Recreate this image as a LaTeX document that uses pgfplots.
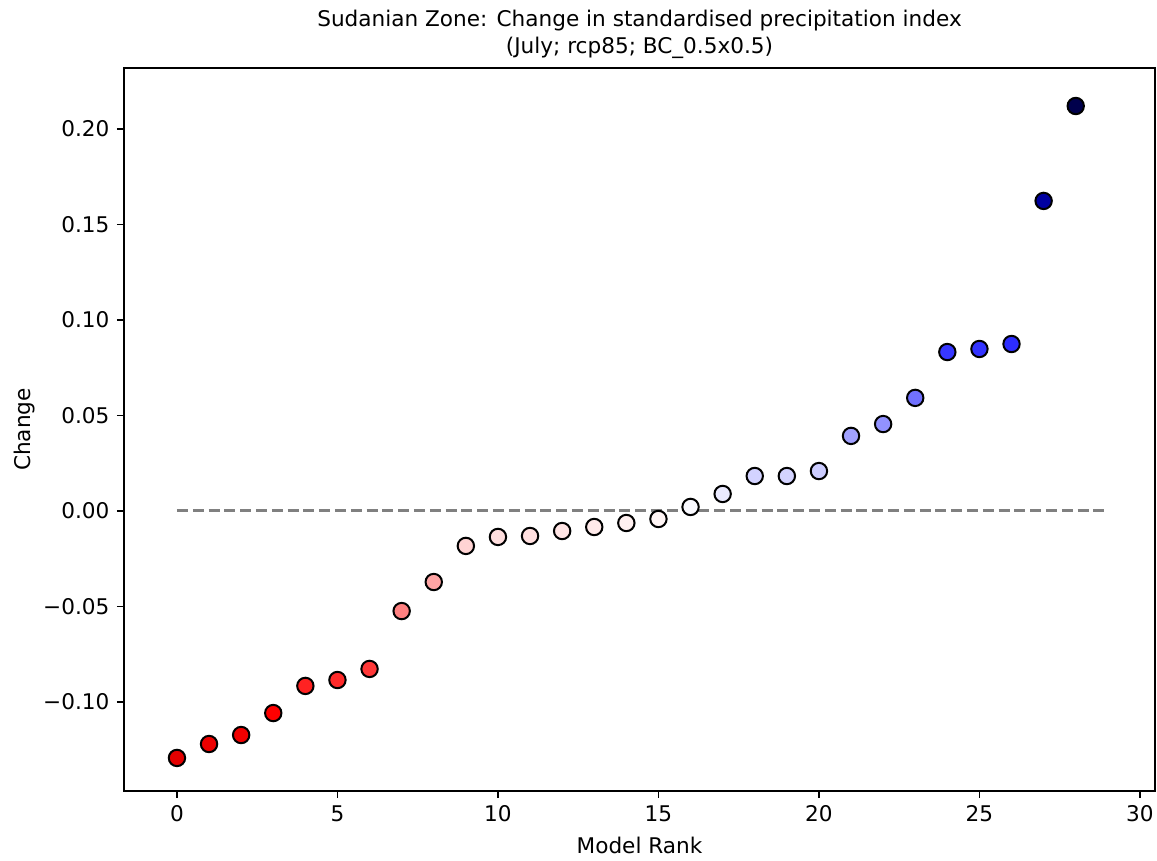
\documentclass[border=0pt]{standalone}
\usepackage{pgfplots}
\pgfplotsset{compat=1.18}
\usepackage{fontspec}
\setmainfont{DejaVu Sans}
\pgfplotstableread{
x y
0 -0.1293
1 -0.1220
2 -0.1173
3 -0.1058
4 -0.0916
5 -0.0885
6 -0.0827
7 -0.0524
8 -0.0372
9 -0.0183
10 -0.0136
11 -0.0131
12 -0.0105
13 -0.0084
14 -0.0063
15 -0.0042
16 0.0021
17 0.0089
18 0.0183
19 0.0183
20 0.0209
21 0.0393
22 0.0455
23 0.0592
24 0.0832
25 0.0848
26 0.0874
27 0.1623
28 0.2120
}\datatable
\begin{document}
\fontsize{10.8}{13}\selectfont
\begin{tikzpicture}
\begin{axis}[
  name=ax,
  scale only axis,
  width=515.5pt, height=361.5pt,
  xmin=-1.65, xmax=30.47,
  ymin=-0.1466, ymax=0.2319,
  axis line style={line width=0.8pt},
  tick align=outside,
  xtick pos=bottom, ytick pos=left,
  major tick length=3.5pt,
  tick style={black, line width=0.8pt},
  xtick={0,5,10,15,20,25,30},
  ytick={-0.10,-0.05,0,0.05,0.10,0.15,0.20},
  yticklabels={−0.10,−0.05,0.00,0.05,0.10,0.15,0.20},
  /pgf/number format/assume math mode=true,
  ticklabel style={font=\fontsize{10.8}{13}\selectfont},
  label style={font=\fontsize{10.8}{13}\selectfont},
  xlabel={Model Rank},
  ylabel={Change},
  ylabel style={yshift=-3.5pt},
  title={Sudanian Zone: Change in standardised precipitation index\\(July; rcp85; BC\_0.5x0.5)},
  title style={align=center, font=\fontsize{10.8}{13.5}\selectfont, yshift=-5pt},
  colormap={seismicr}{rgb255(0)=(128,0,0) rgb255(1)=(255,0,0) rgb255(2)=(255,255,255) rgb255(3)=(0,0,255) rgb255(4)=(0,0,76)},
  point meta min=-0.212, point meta max=0.212,
  clip=false,
]
\addplot[color={rgb,255:red,128;green,128;blue,128}, line width=1.5pt, dash pattern=on 5.5pt off 2.4pt] coordinates {(0,0) (29,0)};
\addplot[scatter, only marks, mark=*, mark size=4.1pt,
  scatter/use mapped color={draw=black, fill=mapped color},
  mark options={line width=1pt}, point meta=\thisrow{y}] table[x=x,y=y] {\datatable};
\end{axis}
\pgfresetboundingbox
\path (ax.south west) ++(-62pt,-35pt) coordinate (bl);
\path (ax.north east) ++(1pt,34pt) coordinate (tr);
\path[use as bounding box] (bl) rectangle (tr);
\end{tikzpicture}
\end{document}
